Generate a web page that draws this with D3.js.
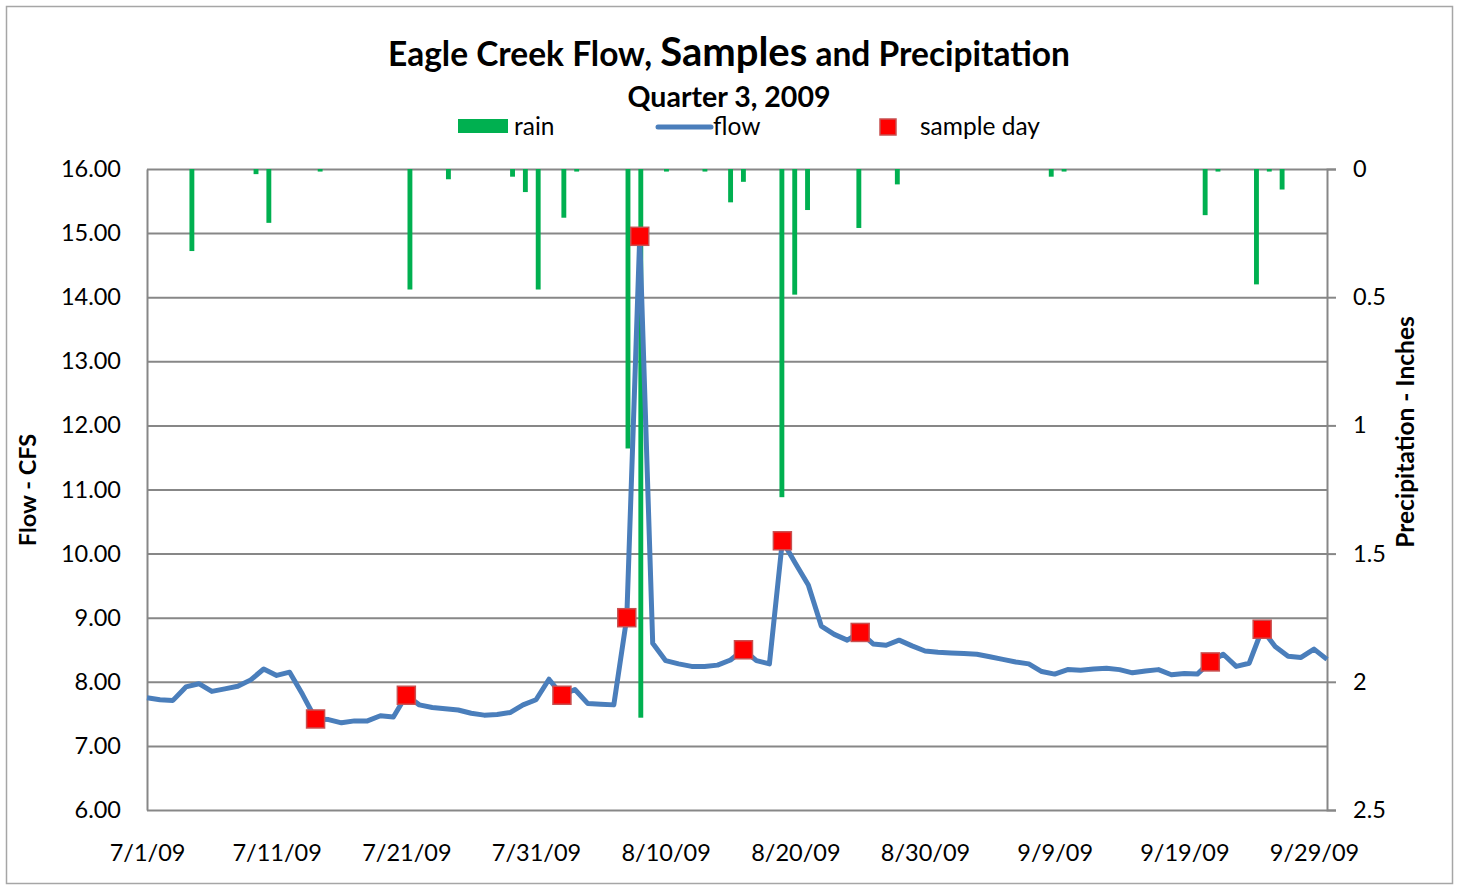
<!DOCTYPE html>
<html>
<head>
<meta charset="utf-8">
<script src="https://cdn.jsdelivr.net/npm/d3@7"></script>
<style>
  body { margin: 0; background: #fff; }
  svg { display: block; font-family: Lato, "Noto Sans", sans-serif; }
</style>
</head>
<body>
<svg width="1460" height="886"></svg>
<script>
// Daily flow (CFS), one value per day starting 7/1/09
const startDate = "2009-07-01";
const flowValues = [
  7.75, 7.72, 7.71, 7.92, 7.97, 7.85, 7.89, 7.93, 8.03, 8.20,
  8.10, 8.15, 7.80, 7.42, 7.41, 7.36, 7.39, 7.39, 7.47, 7.45,
  7.79, 7.64, 7.60, 7.58, 7.56, 7.51, 7.48, 7.49, 7.52, 7.64,
  7.72, 8.04, 7.79, 7.88, 7.66, 7.65, 7.64, 9.00, 14.95, 8.60,
  8.33, 8.28, 8.24, 8.24, 8.26, 8.34, 8.50, 8.33, 8.28, 10.20,
  9.85, 9.51, 8.87, 8.74, 8.65, 8.77, 8.59, 8.57, 8.65, 8.56,
  8.48, 8.46, 8.45, 8.44, 8.43, 8.39, 8.35, 8.31, 8.28, 8.16,
  8.12, 8.19, 8.18, 8.20, 8.21, 8.19, 8.14, 8.17, 8.19, 8.11,
  8.13, 8.12, 8.31, 8.43, 8.24, 8.29, 8.82, 8.55, 8.40, 8.38,
  8.51, 8.35
];

// Rain days (inches)
const rainDates = [
  "2009-07-04", "2009-07-09", "2009-07-10", "2009-07-14", "2009-07-21",
  "2009-07-24", "2009-07-29", "2009-07-30", "2009-07-31", "2009-08-02",
  "2009-08-03", "2009-08-07", "2009-08-08", "2009-08-10", "2009-08-13",
  "2009-08-15", "2009-08-16", "2009-08-19", "2009-08-20", "2009-08-21",
  "2009-08-25", "2009-08-28", "2009-09-09", "2009-09-10", "2009-09-21",
  "2009-09-22", "2009-09-25", "2009-09-26", "2009-09-27"
];
const rainInches = [
  0.32, 0.02, 0.21, 0.01, 0.47,
  0.04, 0.03, 0.09, 0.47, 0.19,
  0.01, 1.09, 2.14, 0.01, 0.01,
  0.13, 0.05, 1.28, 0.49, 0.16,
  0.23, 0.06, 0.03, 0.01, 0.18,
  0.01, 0.45, 0.01, 0.08
];

// Sample days
const sampleDates = [
  "2009-07-14", "2009-07-21", "2009-08-02", "2009-08-07", "2009-08-08",
  "2009-08-16", "2009-08-19", "2009-08-25", "2009-09-21", "2009-09-25"
];

// Axis ticks
const xTickLabels = ["7/1/09", "7/11/09", "7/21/09", "7/31/09", "8/10/09",
  "8/20/09", "8/30/09", "9/9/09", "9/19/09", "9/29/09"];
const flowTicks = [6, 7, 8, 9, 10, 11, 12, 13, 14, 15, 16];
const rainTicks = [0, 0.5, 1, 1.5, 2, 2.5];

const parse = d3.timeParse("%Y-%m-%d");
const fmtTick = d3.timeFormat("%-m/%-d/%y");

const plot = { left: 147, right: 1327, top: 169, bottom: 810 };
const gridColor = "#878787";

function buildFlow() {
  const t0 = parse(startDate);
  return flowValues.map((v, i) => ({ date: d3.timeDay.offset(t0, i), flow: v }));
}

function getScales(flow) {
  let x = d3.scaleTime()
    .domain(d3.extent(flow, (d) => d.date))
    .range([plot.left, plot.right]);
  let xBand = d3.scaleBand()
    .domain(flow.map((d) => +d.date))
    .range([plot.left, plot.right])
    .paddingInner(0.62)
    .paddingOuter(0.31);
  let y = d3.scaleLinear().domain([6, 16]).range([plot.bottom, plot.top]);
  let yRain = d3.scaleLinear().domain([0, 2.5]).range([plot.top, plot.bottom]);
  return [x, xBand, y, yRain];
}

function drawChart() {
  let svg = d3.select("svg");
  const flow = buildFlow();
  let [x, xBand, y, yRain] = getScales(flow);

  // outer chart border
  svg.append("rect")
    .attr("x", 6.5).attr("y", 6.5)
    .attr("width", 1446).attr("height", 877)
    .attr("fill", "none")
    .attr("stroke", "#a6a6a6")
    .attr("stroke-width", 1.5);

  // horizontal gridlines
  svg.append("g")
    .attr("transform", `translate(${plot.left},0)`)
    .call(d3.axisLeft(y).tickValues(flowTicks).tickSize(-(plot.right - plot.left)).tickFormat(""))
    .call((g) => g.select(".domain").remove())
    .selectAll("line")
    .attr("stroke", gridColor)
    .attr("stroke-width", 2);

  // left axis
  const yAxis = svg.append("g")
    .attr("transform", `translate(${plot.left},0)`)
    .call(d3.axisLeft(y).tickValues(flowTicks).tickSize(0).tickPadding(26).tickFormat(d3.format(".2f")));
  yAxis.select(".domain").attr("stroke", gridColor).attr("stroke-width", 2);
  yAxis.selectAll("text")
    .attr("font-size", 23.5)
    .attr("fill", "#000")
    .attr("font-family", "Lato");

  // right axis
  const yRAxis = svg.append("g")
    .attr("transform", `translate(${plot.right},0)`)
    .call(d3.axisRight(yRain).tickValues(rainTicks).tickSize(9).tickPadding(17).tickFormat((d) => d));
  yRAxis.select(".domain").attr("stroke", gridColor).attr("stroke-width", 2);
  yRAxis.selectAll("line").attr("stroke", gridColor).attr("stroke-width", 2);
  yRAxis.selectAll("text")
    .attr("font-size", 23.5)
    .attr("fill", "#000")
    .attr("font-family", "Lato");

  // bottom axis
  const tickDates = xTickLabels.map((s) => d3.timeParse("%-m/%-d/%y")(s));
  const xAxis = svg.append("g")
    .attr("transform", `translate(0,${plot.bottom})`)
    .call(d3.axisBottom(x).tickValues(tickDates).tickSize(0).tickPadding(34).tickFormat(fmtTick));
  xAxis.select(".domain").remove();
  xAxis.selectAll("text")
    .attr("font-size", 23.5)
    .attr("fill", "#000")
    .attr("font-family", "Lato");

  // rain columns hanging from the top
  const rain = rainDates.map((s, i) => ({ date: parse(s), inches: rainInches[i] }));
  svg.append("g")
    .selectAll("rect")
    .data(rain)
    .enter()
    .append("rect")
    .attr("x", (d) => xBand(+d.date))
    .attr("y", yRain(0))
    .attr("width", xBand.bandwidth())
    .attr("height", (d) => yRain(d.inches) - yRain(0))
    .attr("fill", "#00b050");

  // flow line
  let line = d3.line()
    .x((d) => x(d.date))
    .y((d) => y(d.flow));
  svg.append("path")
    .datum(flow)
    .attr("d", line)
    .attr("fill", "none")
    .attr("stroke", "#4a7ebb")
    .attr("stroke-width", 5)
    .attr("stroke-linejoin", "round");

  // sample day markers
  const byDate = new Map(flow.map((d) => [+d.date, d.flow]));
  const samples = sampleDates.map((s) => ({ date: parse(s), flow: byDate.get(+parse(s)) }));
  const m = 18;
  svg.append("g")
    .selectAll("rect")
    .data(samples)
    .enter()
    .append("rect")
    .attr("x", (d) => x(d.date) - m / 2)
    .attr("y", (d) => y(d.flow) - m / 2)
    .attr("width", m)
    .attr("height", m)
    .attr("fill", "#ff0000")
    .attr("stroke", "#c85050")
    .attr("stroke-width", 1.5);

  // titles
  const title = svg.append("text")
    .attr("x", 729)
    .attr("y", 66)
    .attr("text-anchor", "middle")
    .attr("font-weight", "bold")
    .attr("font-size", 33.5);
  title.append("tspan").text("Eagle Creek Flow, ");
  title.append("tspan").attr("font-size", 40).text("Samples");
  title.append("tspan").text(" and Precipitation");

  svg.append("text")
    .attr("x", 729)
    .attr("y", 107)
    .attr("text-anchor", "middle")
    .attr("font-weight", "bold")
    .attr("font-size", 28.5)
    .text("Quarter 3, 2009");

  svg.append("text")
    .attr("transform", "translate(36,490) rotate(-90)")
    .attr("text-anchor", "middle")
    .attr("font-weight", "bold")
    .attr("font-size", 23.5)
    .text("Flow - CFS");

  svg.append("text")
    .attr("transform", "translate(1414,432) rotate(-90)")
    .attr("text-anchor", "middle")
    .attr("font-weight", "bold")
    .attr("font-size", 24.5)
    .text("Precipitation - Inches");

  // legend
  const legend = svg.append("g").attr("font-size", 24.5);
  legend.append("rect")
    .attr("x", 458).attr("y", 119).attr("width", 50).attr("height", 14)
    .attr("fill", "#00b050");
  legend.append("text").attr("x", 514).attr("y", 135).text("rain");
  legend.append("line")
    .attr("x1", 658).attr("x2", 711).attr("y1", 127).attr("y2", 127)
    .attr("stroke", "#4a7ebb").attr("stroke-width", 5).attr("stroke-linecap", "round");
  legend.append("text").attr("x", 713).attr("y", 135).text("flow");
  legend.append("rect")
    .attr("x", 880).attr("y", 119).attr("width", 16).attr("height", 16)
    .attr("fill", "#ff0000").attr("stroke", "#c85050").attr("stroke-width", 1.5);
  legend.append("text").attr("x", 920).attr("y", 135).text("sample day");
}

drawChart();
</script>
</body>
</html>
